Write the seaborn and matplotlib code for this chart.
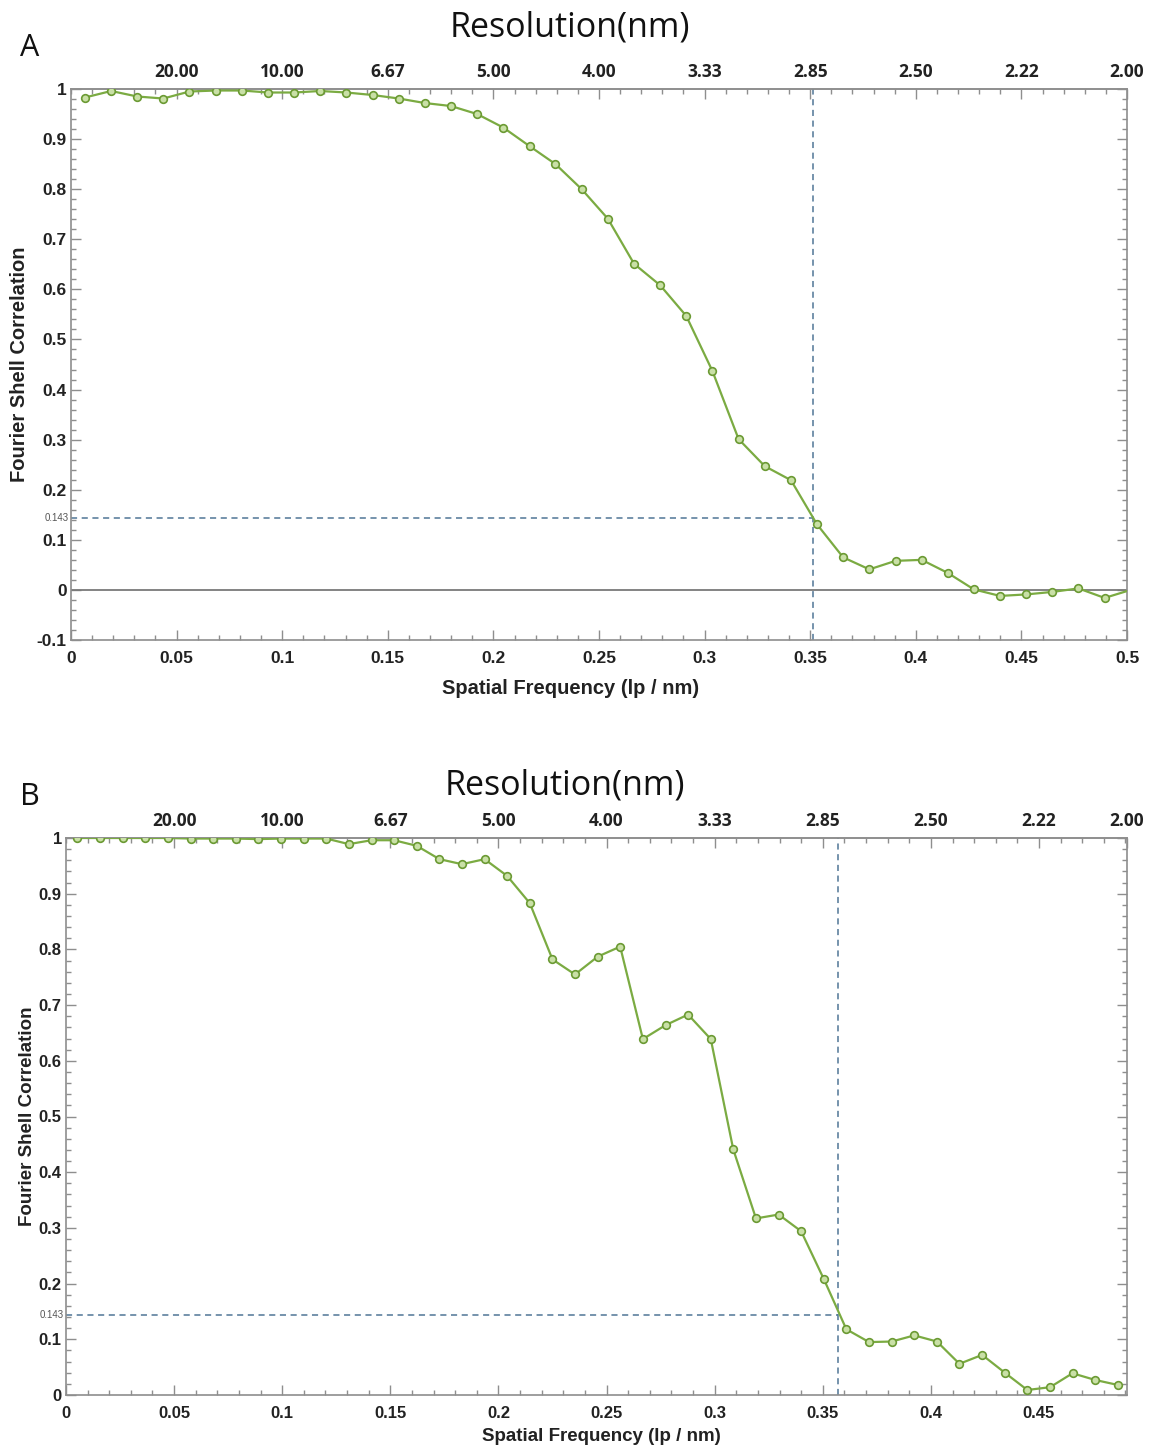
import matplotlib
matplotlib.use('Agg')
import matplotlib.pyplot as plt
from matplotlib.ticker import MultipleLocator
import pandas as pd
import seaborn as sns

# Panel A: FSC curve
freq_a = [0.0066, 0.0190, 0.0314, 0.0437, 0.0561, 0.0685, 0.0809, 0.0933, 0.1056, 0.1180,
          0.1304, 0.1428, 0.1552, 0.1675, 0.1799, 0.1923, 0.2047, 0.2171, 0.2294, 0.2418,
          0.2542, 0.2666, 0.2790, 0.2913, 0.3037, 0.3161, 0.3285, 0.3409, 0.3532, 0.3656,
          0.3780, 0.3904, 0.4028, 0.4151, 0.4275, 0.4399, 0.4523, 0.4647, 0.4770, 0.4894,
          0.5018]
fsc_a = [0.983, 0.996, 0.985, 0.981, 0.995, 0.997, 0.997, 0.993, 0.993, 0.996,
         0.993, 0.988, 0.981, 0.972, 0.966, 0.950, 0.923, 0.886, 0.850, 0.800,
         0.741, 0.651, 0.608, 0.547, 0.437, 0.301, 0.247, 0.219, 0.131, 0.065,
         0.041, 0.058, 0.060, 0.034, 0.001, -0.012, -0.009, -0.004, 0.003, -0.016,
         0.000]
res_a = 0.3515

# Panel B
freq_b = [0.0053, 0.0158, 0.0262, 0.0367, 0.0471, 0.0576, 0.0681, 0.0785, 0.0890, 0.0994,
          0.1099, 0.1204, 0.1308, 0.1413, 0.1517, 0.1622, 0.1727, 0.1831, 0.1936, 0.2040,
          0.2145, 0.2250, 0.2354, 0.2459, 0.2563, 0.2668, 0.2773, 0.2877, 0.2982, 0.3086,
          0.3191, 0.3296, 0.3400, 0.3505, 0.3609, 0.3714, 0.3819, 0.3923, 0.4028, 0.4132,
          0.4237, 0.4342, 0.4446, 0.4551, 0.4655, 0.4760, 0.4865]
fsc_b = [1.000, 1.000, 1.000, 1.000, 1.000, 0.999, 0.999, 0.999, 0.998, 0.999,
         0.999, 0.999, 0.989, 0.996, 0.996, 0.986, 0.962, 0.953, 0.962, 0.932,
         0.883, 0.782, 0.755, 0.787, 0.805, 0.639, 0.664, 0.683, 0.639, 0.441,
         0.317, 0.324, 0.294, 0.208, 0.118, 0.095, 0.096, 0.107, 0.096, 0.056,
         0.072, 0.040, 0.009, 0.014, 0.039, 0.027, 0.018]
res_b = 0.357

threshold = 0.143

# bottom axis
xticks_a = [0, 0.05, 0.1, 0.15, 0.2, 0.25, 0.3, 0.35, 0.4, 0.45, 0.5]
xlabels_a = ['0', '0.05', '0.1', '0.15', '0.2', '0.25', '0.3', '0.35', '0.4', '0.45', '0.5']
xticks_b = xticks_a[:-1]
xlabels_b = xlabels_a[:-1]

# left axis
yticks_a = [-0.1, 0, 0.1, 0.2, 0.3, 0.4, 0.5, 0.6, 0.7, 0.8, 0.9, 1.0]
ylabels_a = ['-0.1', '0', '0.1', '0.2', '0.3', '0.4', '0.5', '0.6', '0.7', '0.8', '0.9', '1']
yticks_b = yticks_a[1:]
ylabels_b = ylabels_a[1:]

# top axis (resolution in nm)
res_ticks_a = [0.05, 0.1, 0.15, 0.2, 0.25, 0.3, 0.35, 0.4, 0.45, 0.5]
res_ticks_b = [0.05, 0.1, 0.15, 0.2, 0.25, 0.3, 0.35, 0.4, 0.45, 0.4907]
res_labels = ['20.00', '10.00', '6.67', '5.00', '4.00', '3.33', '2.85', '2.50', '2.22', '2.00']

GREEN = '#7bab42'
DASH = '#4f7596'
SPINE = '#8e8e8e'
TEXT = '#222222'
SOFT_FONT = ['Open Sans', 'DejaVu Sans']

sns.set_theme(style='ticks')
plt.rcParams['font.family'] = ['Liberation Sans', 'DejaVu Sans']

fig = plt.figure(figsize=(11.58, 14.49), dpi=100)
W, H = 1158, 1449
ax_a = fig.add_axes([71 / W, 1 - 640 / H, 1056 / W, 551 / H])
ax_b = fig.add_axes([66 / W, 1 - 1395 / H, 1061 / W, 557 / H])


def draw_panel(ax, freq, fsc, res, xlim, ylim, xticks, xlabels, yticks, ylabels,
               top_ticks, n_markers, fs, lab_fs, zero_line):
    df = pd.DataFrame({'freq': freq, 'fsc': fsc})
    sns.lineplot(data=df, x='freq', y='fsc', ax=ax, color=GREEN, linewidth=1.6,
                 marker='o', markersize=5.5, markerfacecolor='#c9e0a6',
                 markeredgecolor='#6b9a33', markeredgewidth=1.2,
                 markevery=list(range(n_markers)), estimator=None, sort=False, zorder=3)
    if zero_line:
        ax.axhline(0, color='#7a7a7a', linewidth=1.3, zorder=2)
    ax.axvline(res, color=DASH, linewidth=1.1, linestyle=(0, (4, 3)), zorder=2)
    ax.hlines(threshold, xlim[0], res, color=DASH, linewidth=1.1,
              linestyle=(0, (4, 3)), zorder=2)

    ax.set_xlim(*xlim)
    ax.set_ylim(*ylim)
    ax.set_xticks(xticks, xlabels)
    ax.set_yticks(yticks, ylabels)
    ax.xaxis.set_minor_locator(MultipleLocator(0.01))
    ax.yaxis.set_minor_locator(MultipleLocator(0.02))
    ax.tick_params(which='both', direction='in', right=True, top=False,
                   color=SPINE, labelcolor=TEXT, width=1)
    ax.tick_params(which='major', length=7)
    ax.tick_params(which='minor', length=3.5)
    ax.tick_params(axis='x', pad=8)
    ax.tick_params(axis='y', pad=3)
    for lab in ax.get_xticklabels() + ax.get_yticklabels():
        lab.set_fontweight('bold')
        lab.set_fontsize(fs)
    for sp in ax.spines.values():
        sp.set_color(SPINE)
        sp.set_linewidth(1.2)

    ax.text(-0.002, threshold, '0.143', transform=ax.get_yaxis_transform(),
            ha='right', va='center', fontsize=7, color='#555555')

    ax.set_xlabel('Spatial Frequency (lp / nm)', fontsize=lab_fs, fontweight='bold', color=TEXT)
    ax.set_ylabel('Fourier Shell Correlation', fontsize=lab_fs, fontweight='bold', color=TEXT)

    top = ax.secondary_xaxis('top')
    top.set_xticks(top_ticks, res_labels)
    top.xaxis.set_minor_locator(MultipleLocator(0.01))
    top.tick_params(which='both', direction='in', color=SPINE, labelcolor=TEXT, width=1, pad=6)
    top.tick_params(which='major', length=7)
    top.tick_params(which='minor', length=3.5)
    for lab in top.get_xticklabels():
        lab.set_family(SOFT_FONT)
        lab.set_fontweight('bold')
        lab.set_fontsize(12.5)
    top.spines['top'].set_color(SPINE)
    top.spines['top'].set_linewidth(1.2)


draw_panel(ax_a, freq_a, fsc_a, res_a, (0, 0.5), (-0.1, 1.0), xticks_a, xlabels_a,
           yticks_a, ylabels_a, res_ticks_a, len(freq_a) - 1, 12.5, 14.5, True)
draw_panel(ax_b, freq_b, fsc_b, res_b, (0, 0.4907), (0, 1.0), xticks_b, xlabels_b,
           yticks_b, ylabels_b, res_ticks_b, len(freq_b), 12, 13.5, False)

ax_a.xaxis.set_label_coords(0.473, -0.070)
ax_a.yaxis.set_label_coords(-0.0400, 0.5)
ax_b.xaxis.set_label_coords(0.505, -0.0590)
ax_b.yaxis.set_label_coords(-0.0283, 0.5)

title_font = dict(family=SOFT_FONT, color='#111111')
fig.text(30 / W, 1 - 48 / H, 'A', fontsize=22, ha='center', va='center', **title_font)
fig.text(570 / W, 1 - 27 / H, 'Resolution(nm)', fontsize=24.5, ha='center', va='center', **title_font)
fig.text(30 / W, 1 - 797 / H, 'B', fontsize=22, ha='center', va='center', **title_font)
fig.text(565 / W, 1 - 785 / H, 'Resolution(nm)', fontsize=24.5, ha='center', va='center', **title_font)

fig.savefig('out.png', dpi=100, facecolor='white')
